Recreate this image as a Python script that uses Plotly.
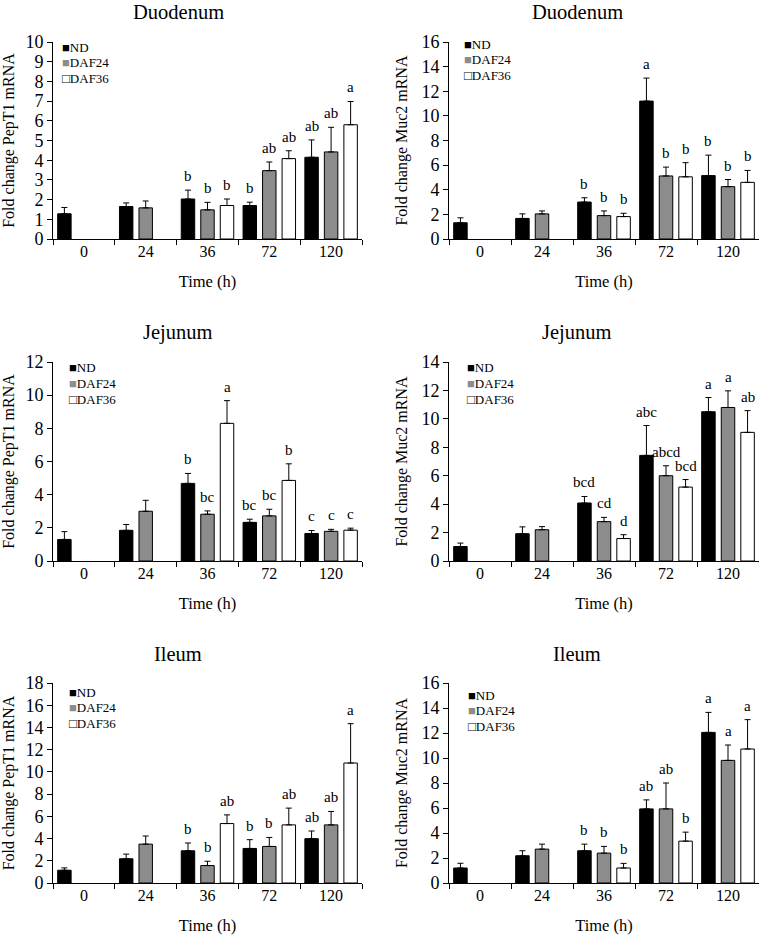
import plotly.graph_objects as go

W, H = 761, 936
FONT = "Liberation Serif, Times New Roman, serif"

times = ["0", "24", "36", "72", "120"]
series = ["ND", "DAF24", "DAF36"]
bar_colors = ["#000000", "#8c8c8c", "#ffffff"]
legend_glyphs = ["■", "■", "□"]
legend_glyph_colors = ["#000000", "#8c8c8c", "#000000"]

# ---- Duodenum PepT1 ----
duo_pept1_nd = [1.28, 1.65, 2.03, 1.70, 4.15]
duo_pept1_nd_err = [0.32, 0.18, 0.45, 0.17, 0.88]
duo_pept1_d24 = [None, 1.58, 1.48, 3.47, 4.42]
duo_pept1_d24_err = [0, 0.35, 0.38, 0.44, 1.25]
duo_pept1_d36 = [None, None, 1.70, 4.08, 5.80]
duo_pept1_d36_err = [0, 0, 0.33, 0.40, 1.18]
duo_pept1_lbl_nd = ["", "", "b", "b", "ab"]
duo_pept1_lbl_d24 = ["", "", "b", "ab", "ab"]
duo_pept1_lbl_d36 = ["", "", "b", "ab", "a"]

# ---- Duodenum Muc2 ----
duo_muc2_nd = [1.32, 1.67, 3.00, 11.20, 5.15]
duo_muc2_nd_err = [0.40, 0.37, 0.35, 1.87, 1.66]
duo_muc2_d24 = [None, 2.04, 1.90, 5.12, 4.25]
duo_muc2_d24_err = [0, 0.24, 0.38, 0.72, 0.58]
duo_muc2_d36 = [None, None, 1.82, 5.05, 4.60]
duo_muc2_d36_err = [0, 0, 0.27, 1.15, 0.97]
duo_muc2_lbl_nd = ["", "", "b", "a", "b"]
duo_muc2_lbl_d24 = ["", "", "b", "b", "b"]
duo_muc2_lbl_d36 = ["", "", "b", "b", "b"]

# ---- Jejunum PepT1 ----
jej_pept1_nd = [1.30, 1.85, 4.68, 2.33, 1.66]
jej_pept1_nd_err = [0.47, 0.35, 0.60, 0.19, 0.18]
jej_pept1_d24 = [None, 3.00, 2.82, 2.72, 1.79]
jej_pept1_d24_err = [0, 0.66, 0.20, 0.40, 0.12]
jej_pept1_d36 = [None, None, 8.30, 4.86, 1.86]
jej_pept1_d36_err = [0, 0, 1.37, 1.00, 0.12]
jej_pept1_lbl_nd = ["", "", "b", "bc", "c"]
jej_pept1_lbl_d24 = ["", "", "bc", "bc", "c"]
jej_pept1_lbl_d36 = ["", "", "a", "b", "c"]

# ---- Jejunum Muc2 ----
jej_muc2_nd = [1.02, 1.92, 4.08, 7.43, 10.50]
jej_muc2_nd_err = [0.24, 0.48, 0.46, 2.10, 1.00]
jej_muc2_d24 = [None, 2.20, 2.77, 6.00, 10.80]
jej_muc2_d24_err = [0, 0.22, 0.30, 0.70, 1.17]
jej_muc2_d36 = [None, None, 1.58, 5.20, 9.05]
jej_muc2_d36_err = [0, 0, 0.27, 0.53, 1.53]
jej_muc2_lbl_nd = ["", "", "bcd", "abc", "a"]
jej_muc2_lbl_d24 = ["", "", "cd", "abcd", "a"]
jej_muc2_lbl_d36 = ["", "", "d", "bcd", "ab"]

# ---- Ileum PepT1 ----
ile_pept1_nd = [1.15, 2.18, 2.90, 3.11, 3.99]
ile_pept1_nd_err = [0.21, 0.42, 0.70, 0.79, 0.69]
ile_pept1_d24 = [None, 3.50, 1.57, 3.29, 5.23]
ile_pept1_d24_err = [0, 0.73, 0.39, 0.81, 1.21]
ile_pept1_d36 = [None, None, 5.35, 5.23, 10.80]
ile_pept1_d36_err = [0, 0, 0.78, 1.51, 3.54]
ile_pept1_lbl_nd = ["", "", "b", "b", "ab"]
ile_pept1_lbl_d24 = ["", "", "b", "b", "ab"]
ile_pept1_lbl_d36 = ["", "", "ab", "ab", "a"]

# ---- Ileum Muc2 ----
ile_muc2_nd = [1.20, 2.18, 2.58, 5.93, 12.05]
ile_muc2_nd_err = [0.38, 0.40, 0.53, 0.72, 1.60]
ile_muc2_d24 = [None, 2.71, 2.39, 5.93, 9.81]
ile_muc2_d24_err = [0, 0.40, 0.54, 2.07, 1.23]
ile_muc2_d36 = [None, None, 1.20, 3.35, 10.72]
ile_muc2_d36_err = [0, 0, 0.37, 0.72, 2.35]
ile_muc2_lbl_nd = ["", "", "b", "ab", "a"]
ile_muc2_lbl_d24 = ["", "", "b", "ab", "a"]
ile_muc2_lbl_d36 = ["", "", "b", "b", "a"]

titles = ["Duodenum", "Duodenum", "Jejunum", "Jejunum", "Ileum", "Ileum"]
ytitles = ["Fold change PepT1 mRNA", "Fold change Muc2 mRNA"] * 3
ymax = [10, 16, 12, 14, 18, 16]
ydtick = [1, 2, 2, 2, 2, 2]

panels = [
    ([duo_pept1_nd, duo_pept1_d24, duo_pept1_d36],
     [duo_pept1_nd_err, duo_pept1_d24_err, duo_pept1_d36_err],
     [duo_pept1_lbl_nd, duo_pept1_lbl_d24, duo_pept1_lbl_d36]),
    ([duo_muc2_nd, duo_muc2_d24, duo_muc2_d36],
     [duo_muc2_nd_err, duo_muc2_d24_err, duo_muc2_d36_err],
     [duo_muc2_lbl_nd, duo_muc2_lbl_d24, duo_muc2_lbl_d36]),
    ([jej_pept1_nd, jej_pept1_d24, jej_pept1_d36],
     [jej_pept1_nd_err, jej_pept1_d24_err, jej_pept1_d36_err],
     [jej_pept1_lbl_nd, jej_pept1_lbl_d24, jej_pept1_lbl_d36]),
    ([jej_muc2_nd, jej_muc2_d24, jej_muc2_d36],
     [jej_muc2_nd_err, jej_muc2_d24_err, jej_muc2_d36_err],
     [jej_muc2_lbl_nd, jej_muc2_lbl_d24, jej_muc2_lbl_d36]),
    ([ile_pept1_nd, ile_pept1_d24, ile_pept1_d36],
     [ile_pept1_nd_err, ile_pept1_d24_err, ile_pept1_d36_err],
     [ile_pept1_lbl_nd, ile_pept1_lbl_d24, ile_pept1_lbl_d36]),
    ([ile_muc2_nd, ile_muc2_d24, ile_muc2_d36],
     [ile_muc2_nd_err, ile_muc2_d24_err, ile_muc2_d36_err],
     [ile_muc2_lbl_nd, ile_muc2_lbl_d24, ile_muc2_lbl_d36]),
]

# layout geometry in page pixels
col_x = [(53, 362), (449, 759)]
row_y = [(42, 239), (362, 561), (683, 883)]
title_x = [178, 577]
title_y = [12, 332, 654]
legend_pos = [(60, 47), (462, 44), (67, 368), (465, 368), (67, 692), (466, 695)]
legend_step = 15.5

BARGAP = 0.053
BARGROUPGAP = 0.31
slot = (1 - BARGAP) / 3


def px_x(p):
    return min(max(p / W, 0.0), 1.0)


def px_y(p):
    return min(max(1 - p / H, 0.0), 1.0)


fig = go.Figure()
annotations = []
layout_axes = {}

for i, (vals, errs, lbls) in enumerate(panels):
    r, c = divmod(i, 2)
    sfx = "" if i == 0 else str(i + 1)
    xa, ya = "x" + sfx, "y" + sfx
    for s in range(3):
        fig.add_trace(go.Bar(
            x=times, y=vals[s], name=series[s], xaxis=xa, yaxis=ya,
            marker=dict(color=bar_colors[s], line=dict(color="#000000", width=1)),
            error_y=dict(type="data", symmetric=False, array=errs[s],
                         arrayminus=[0] * len(times), color="#000000",
                         thickness=1, width=3),
            showlegend=False,
        ))
        offset = (s - 1) * slot
        for k, t in enumerate(lbls[s]):
            if t and vals[s][k] is not None:
                annotations.append(dict(
                    x=k + offset, y=vals[s][k] + errs[s][k], xref=xa, yref=ya,
                    text=t, showarrow=False, yanchor="bottom", xanchor="center",
                    yshift=4, font=dict(family=FONT, size=15, color="#000000"),
                ))
    x0, x1 = col_x[c]
    y0, y1 = row_y[r]
    layout_axes["xaxis" + sfx] = dict(
        domain=[px_x(x0), px_x(x1)], anchor=ya, type="category", automargin=False,
        categoryorder="array", categoryarray=times, range=[-0.5, 4.5],
        showline=True, linecolor="#000000", linewidth=1, showgrid=False,
        ticks="outside", tickson="boundaries", ticklen=5, tickcolor="#000000",
        ticklabelstandoff=-2,
        tickfont=dict(family=FONT, size=16, color="#000000"),
        title=dict(text="Time (h)", font=dict(family=FONT, size=16.5, color="#000000"),
                   standoff=16),
    )
    layout_axes["yaxis" + sfx] = dict(
        domain=[px_y(y1), px_y(y0)], anchor=xa, range=[0, ymax[i]], automargin=False,
        dtick=ydtick[i], tick0=0, showline=True, linecolor="#000000", linewidth=1,
        showgrid=False, zeroline=False, ticks="outside", ticklen=5,
        tickcolor="#000000",
        tickfont=dict(family=FONT, size=18, color="#000000"),
        title=dict(text=ytitles[i], font=dict(family=FONT, size=16, color="#000000"),
                   standoff=9),
    )
    # panel title
    annotations.append(dict(
        x=px_x(title_x[c]), y=px_y(title_y[r]), xref="paper", yref="paper",
        text=titles[i], showarrow=False, xanchor="center", yanchor="middle",
        font=dict(family=FONT, size=20.5, color="#000000"),
    ))
    # legend entries
    lx, ly = legend_pos[i]
    for s in range(3):
        annotations.append(dict(
            x=px_x(lx), y=px_y(ly + s * legend_step), xref="paper", yref="paper",
            text='<span style="color:%s">%s</span>%s' % (legend_glyph_colors[s], legend_glyphs[s], series[s]),
            showarrow=False, xanchor="left", yanchor="middle",
            font=dict(family=FONT, size=13, color="#000000"),
        ))

fig.update_layout(
    width=W, height=H, margin=dict(l=0, r=0, t=0, b=0, autoexpand=False),
    paper_bgcolor="#ffffff", plot_bgcolor="#ffffff",
    barmode="group", bargap=BARGAP, bargroupgap=BARGROUPGAP,
    annotations=annotations, showlegend=False,
    font=dict(family=FONT, color="#000000"),
    **layout_axes,
)

# pin the figure to the top-left corner of the window so the page is exactly 761x936
pin = (
    "document.documentElement.style.margin='0';"
    "document.body.style.margin='0';"
    "document.documentElement.style.overflow='hidden';"
    "document.body.style.overflow='hidden';"
    "var gd=document.getElementById('{plot_id}');"
    "gd.style.position='fixed';gd.style.left='0px';gd.style.top='0px';"
)
fig.write_html("out.html", config={"displayModeBar": False}, post_script=pin)
